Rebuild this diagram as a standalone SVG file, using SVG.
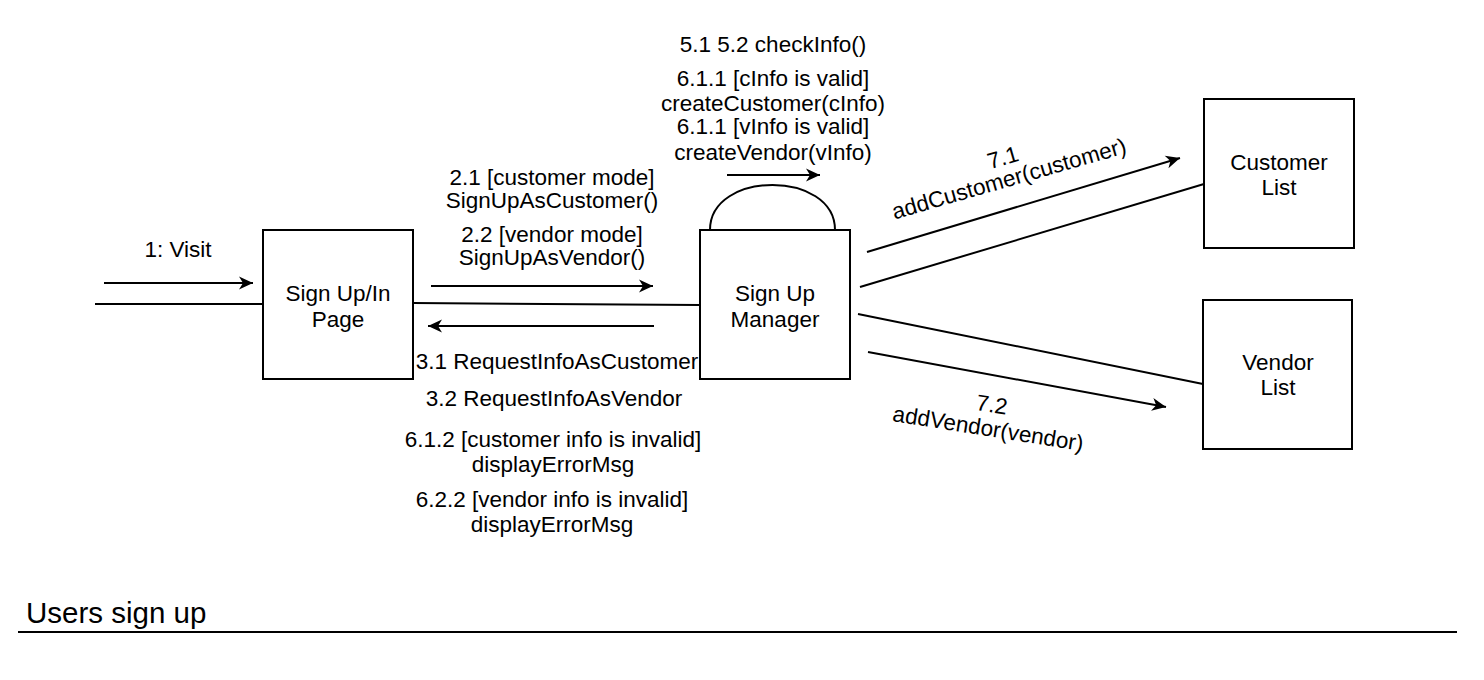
<svg xmlns="http://www.w3.org/2000/svg" width="1484" height="680" viewBox="0 0 1484 680">
<style>
text{font-family:"Liberation Sans",Arial,sans-serif;font-size:22.5px;fill:#000;text-anchor:middle}
.box{fill:#fff;stroke:#000;stroke-width:2}
.ln{fill:none;stroke:#000;stroke-width:2}
.ar{fill:none;stroke:#000;stroke-width:2;marker-end:url(#ah)}
.title{font-size:29.5px;text-anchor:start}
</style>
<defs>
<marker id="ah" markerUnits="userSpaceOnUse" viewBox="0 0 16 16" markerWidth="16" markerHeight="16" refX="15" refY="8" orient="auto">
<path d="M1,1.5 L15,8 L1,14.5 L5,8 Z" fill="#000"/>
</marker>
</defs>
<rect width="1484" height="680" fill="#fff"/>
<g id="connectors">
<line class="ar" x1="104" y1="283" x2="253" y2="283"/>
<line class="ln" x1="95" y1="304" x2="263" y2="304"/>
<line class="ln" x1="413" y1="303" x2="700" y2="305"/>
<line class="ar" x1="431" y1="286" x2="653" y2="286"/>
<line class="ar" x1="654" y1="326" x2="428" y2="326"/>
<path class="ln" d="M710,230 C710,170 835,170 835,230"/>
<line class="ar" x1="727" y1="175" x2="820" y2="175"/>
<line class="ln" x1="860" y1="287" x2="1204" y2="184"/>
<line class="ar" x1="867" y1="252" x2="1180" y2="158"/>
<line class="ln" x1="858" y1="314" x2="1203" y2="384"/>
<line class="ar" x1="868" y1="352" x2="1166" y2="407"/>
</g>
<g id="labels">
<text x="178" y="257">1: Visit</text>
<text x="552" y="185">2.1 [customer mode]</text>
<text x="552" y="208">SignUpAsCustomer()</text>
<text x="552" y="242">2.2 [vendor mode]</text>
<text x="552" y="265">SignUpAsVendor()</text>
<text x="557" y="369">3.1 RequestInfoAsCustomer</text>
<text x="554" y="406">3.2 RequestInfoAsVendor</text>
<text x="553" y="447">6.1.2 [customer info is invalid]</text>
<text x="553" y="472">displayErrorMsg</text>
<text x="552" y="507">6.2.2 [vendor info is invalid]</text>
<text x="552" y="532">displayErrorMsg</text>
<text x="773" y="52">5.1 5.2 checkInfo()</text>
<text x="773" y="86">6.1.1 [cInfo is valid]</text>
<text x="773" y="111">createCustomer(cInfo)</text>
<text x="773" y="134">6.1.1 [vInfo is valid]</text>
<text x="773" y="160">createVendor(vInfo)</text>
<g transform="translate(1011,186) rotate(-16)">
<text x="0" y="-22">7.1</text>
<text x="0" y="0">addCustomer(customer)</text>
</g>
<g transform="translate(987,436) rotate(9)">
<text x="0" y="-24">7.2</text>
<text x="0" y="0">addVendor(vendor)</text>
</g>
</g>
<g id="signup-page">
<rect class="box" x="263" y="230" width="150" height="149"/>
<text x="338" y="301">Sign Up/In</text>
<text x="338" y="327">Page</text>
</g>
<g id="signup-manager">
<rect class="box" x="700" y="230" width="150" height="149"/>
<text x="775" y="301">Sign Up</text>
<text x="775" y="327">Manager</text>
</g>
<g id="customer-list">
<rect class="box" x="1204" y="99" width="150" height="149"/>
<text x="1279" y="170">Customer</text>
<text x="1279" y="195">List</text>
</g>
<g id="vendor-list">
<rect class="box" x="1203" y="300" width="149" height="149"/>
<text x="1278" y="370">Vendor</text>
<text x="1278" y="395">List</text>
</g>
<g id="title">
<text class="title" x="26" y="623">Users sign up</text>
<line class="ln" x1="18" y1="632" x2="1457" y2="632"/>
</g>
</svg>
